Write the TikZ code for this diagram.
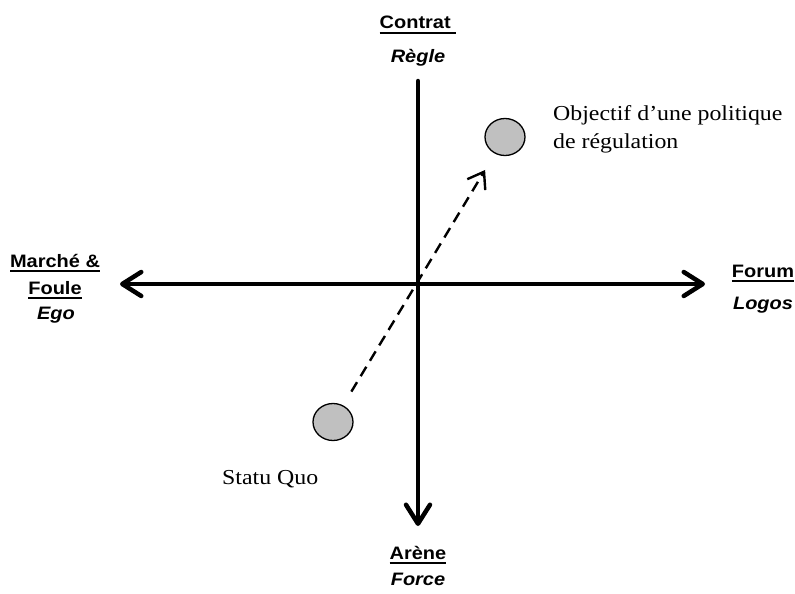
\documentclass[tikz,border=0pt]{standalone}
\usepackage{fontspec}
\setmainfont{Liberation Serif}[FakeStretch=1.12]
\setsansfont{Liberation Sans}[FakeStretch=1.11]
\usetikzlibrary{arrows.meta,shapes.geometric}
\newcommand\myul[1]{\setbox0\hbox{#1}\rlap{\rule[-5pt]{\wd0}{2pt}}\box0}
\tikzset{
  axis/.style={line width=4.5pt, line cap=round, line join=round,
    -{Straight Barb[length=19pt 0 0,width=24pt 0 0,line cap=round,line join=round]}},
  axis2/.style={line width=4.5pt, line cap=round, line join=round,
    {Straight Barb[length=19pt 0 0,width=24pt 0 0,line cap=round,line join=round]}-{Straight Barb[length=19pt 0 0,width=24pt 0 0,line cap=round,line join=round]}},
  pole/.style={font=\sffamily\bfseries\fontsize{18}{20}\selectfont, anchor=base, inner sep=0pt},
  sub/.style={font=\sffamily\bfseries\itshape\fontsize{18}{20}\selectfont, anchor=base, inner sep=0pt},
  note/.style={font=\rmfamily\fontsize{21.3}{28}\selectfont, anchor=base west, inner sep=0pt},
  dot/.style={ellipse, draw=black, line width=1.3pt, fill={rgb,255:red,192;green,192;blue,192},
    minimum width=40pt, minimum height=37pt, inner sep=0pt},
  move/.style={line width=2.4pt, dash pattern=on 11pt off 7pt,
    -{Straight Barb[length=15pt 0 0,width=21pt 0 0]}}
}
\begin{document}
\begin{tikzpicture}[x=1pt,y=-1pt]
\useasboundingbox (0,0) rectangle (795,594);
% axes
\coordinate (top) at (418,81);
\coordinate (bot) at (418,526);
\coordinate (lft) at (120,284);
\coordinate (rgt) at (705,284);
\draw[axis] (top) -- (bot);
\draw[axis2] (lft) -- (rgt);
% pole labels
\node[pole] (contrat) at (418,29) {\myul{Contrat\ }};
\node[sub] (regle) at (418,63) {Règle};
\node[pole] (marche) at (55,267) {\myul{Marché \&}};
\node[pole] (foule) at (55,294) {\myul{Foule}};
\node[sub] (ego) at (56,319) {Ego};
\node[pole] (forum) at (763,277) {\myul{Forum}};
\node[sub] (logos) at (763,309) {Logos};
\node[pole] (arene) at (418,559) {\myul{Arène}};
\node[sub] (force) at (418,585) {Force};
% points
\node[dot] (goal) at (505,137) {};
\node[dot] (sq) at (333,422) {};
\draw[move, shorten <=16pt, shorten >=19pt] (sq) -- (goal);
\node[note] (obj1) at (553,120) {Objectif d’une politique};
\node[note] (obj2) at (553,148) {de régulation};
\node[note] (statu) at (222,484) {Statu Quo};
\end{tikzpicture}
\end{document}
